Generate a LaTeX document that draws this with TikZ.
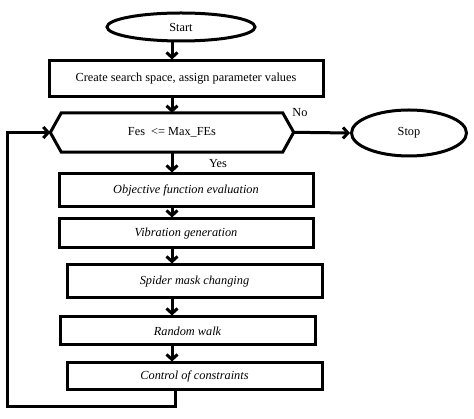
\documentclass[tikz,border=0pt]{standalone}
\usepackage{fontspec}
\setmainfont{Liberation Serif}
\usetikzlibrary{arrows.meta,shapes.geometric}
\begin{document}
\begin{tikzpicture}[x=1pt,y=-1pt,
  ln/.style={line width=3pt},
  arr/.style={ln,-{Straight Barb[length=5pt,width=11pt]}},
  box/.style={draw,ln,rectangle,inner sep=0pt,font=\fontsize{12.3}{14}\selectfont\itshape},
  oval/.style={draw,ln,ellipse,inner sep=0pt,font=\fontsize{12.3}{14}\selectfont},
  lbl/.style={font=\fontsize{12.3}{14}\selectfont,inner sep=0pt}]
\useasboundingbox (0,0) rectangle (474,419);
\node[oval,minimum width=148pt,minimum height=28pt] (start) at (181,27) {Start};
\node[box,font=\fontsize{12.3}{14}\selectfont,minimum width=274pt,minimum height=36pt] (create) at (186,79) {Create search space, assign parameter values};
\node[lbl,minimum width=221pt,minimum height=39pt] (hex) at (172,132.5) {Fes~~<= Max\_FEs};
\draw[ln,line join=miter] (hex.west) ++(-11,0) coordinate (hexl) -- (hex.north west) -- (hex.north east) -- ++(11,19.5) coordinate (hexr) -- (hex.south east) -- (hex.south west) -- cycle;
\node[oval,minimum width=115pt,minimum height=46pt] (stop) at (409,133) {Stop};
\node[box,minimum width=254pt,minimum height=33pt] (obj) at (186,190.5) {Objective function evaluation};
\node[box,minimum width=254pt,minimum height=29pt] (vib) at (186,233.5) {Vibration generation};
\node[box,minimum width=255pt,minimum height=33pt] (spider) at (194.5,281.5) {Spider mask changing};
\node[box,minimum width=255pt,minimum height=28pt] (rw) at (187.5,331) {Random walk};
\node[box,minimum width=255pt,minimum height=27pt] (ctrl) at (194.5,376.5) {Control of constraints};
\node[lbl] (no) at (300,113) {No};
\node[lbl] (yes) at (218,164) {Yes};
\coordinate (ax) at (172,0);
\coordinate (lx) at (7,0);
\coordinate (bx) at (175,407);
\draw[arr] (start.south -| ax) -- (create.north -| ax);
\draw[arr] (create.south -| ax) -- (hex.north -| ax);
\draw[arr] (hexr) -- (stop.west);
\draw[arr] (hex.south -| ax) -- (obj.north -| ax);
\draw[arr] (obj.south -| ax) -- (vib.north -| ax);
\draw[arr] (vib.south -| ax) -- (spider.north -| ax);
\draw[arr] (spider.south -| ax) -- (rw.north -| ax);
\draw[arr] (rw.south -| ax) -- (ctrl.north -| ax);
\draw[arr,line join=miter] (ctrl.south -| bx) -- (bx) -| (lx |- hexl) -- (hexl);
\end{tikzpicture}
\end{document}
